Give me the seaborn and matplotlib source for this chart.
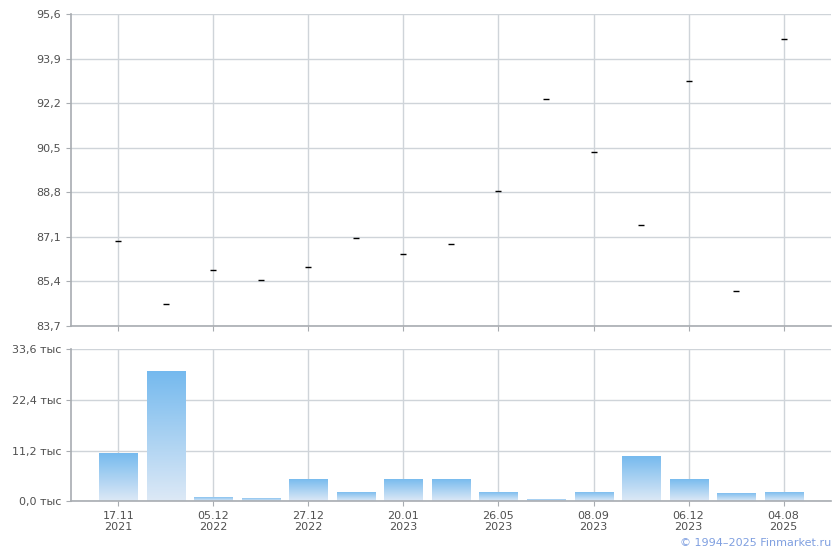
"""
Price and volume chart (Finmarket style)
"""

import numpy as np
import pandas as pd
import matplotlib
matplotlib.use("Agg")
import matplotlib.pyplot as plt
from matplotlib.colors import LinearSegmentedColormap
import seaborn as sns

sns.set_style("white")
plt.rcParams['font.family'] = ['DejaVu Sans']

# Data
dates = ["17.11\n2021", "", "05.12\n2022", "", "27.12\n2022", "", "20.01\n2023", "",
         "26.05\n2023", "", "08.09\n2023", "", "06.12\n2023", "", "04.08\n2025"]
prices = [86.93, 84.53, 85.82, 85.44, 85.94, 87.05, 86.43, 86.82,
          88.84, 92.35, 90.32, 87.54, 93.03, 85.02, 94.63]
volumes = [10.66, 28.75, 0.95, 0.73, 4.92, 2.05, 4.92, 4.92,
           2.05, 0.5, 2.05, 10.0, 4.92, 1.83, 2.05]
price_ticks = [83.7, 85.4, 87.1, 88.8, 90.5, 92.2, 93.9, 95.6]
volume_ticks = [0.0, 11.2, 22.4, 33.6]

df = pd.DataFrame({"idx": np.arange(len(prices)), "price": prices, "volume": volumes})

GRID = "#cfd4d9"
SPINE = "#a8acb1"
TEXT = "#505050"

fig = plt.figure(figsize=(8.4, 5.5), dpi=100)
ax1 = fig.add_axes([0.0845, 0.4073, 0.9048, 0.5673])
ax2 = fig.add_axes([0.0845, 0.0885, 0.9048, 0.2769])

labelled = [i for i, d in enumerate(dates) if d]

for ax in (ax1, ax2):
    ax.set_xlim(-1, len(prices))
    ax.set_xticks(labelled)
    for s in ("top", "right"):
        ax.spines[s].set_visible(False)
    for s in ("left", "bottom"):
        ax.spines[s].set_color(SPINE)
        ax.spines[s].set_linewidth(1.2)
    ax.grid(True, color=GRID, linewidth=1)
    ax.set_axisbelow(True)
    ax.tick_params(axis="both", which="both", length=3.5, color=SPINE, labelcolor=TEXT,
                   labelsize=8, bottom=True, left=True, direction="out")

# Top panel: price marks
sns.scatterplot(data=df, x="idx", y="price", marker="_", s=22, color="black",
                linewidth=1.0, ax=ax1, legend=False)
ax1.set_ylim(price_ticks[0], price_ticks[-1])
ax1.set_yticks(price_ticks)
ax1.set_yticklabels([f"{v:.1f}".replace(".", ",") for v in price_ticks])
ax1.set_xticklabels([])
ax1.set_xlabel("")
ax1.set_ylabel("")

# Bottom panel: volume bars with vertical gradient
sns.barplot(data=df, x="idx", y="volume", native_scale=True, width=0.8,
            color="#74b9ee", ax=ax2)
ax2.set_xlim(-1, len(prices))
ax2.set_ylim(volume_ticks[0], volume_ticks[-1])
ax2.set_yticks(volume_ticks)
ax2.set_yticklabels([f"{v:.1f}".replace(".", ",") + " тыс" for v in volume_ticks])
ax2.set_xticks(labelled)
ax2.set_xticklabels([dates[i] for i in labelled], linespacing=1.1)
ax2.set_xlabel("")
ax2.set_ylabel("")

cmap = LinearSegmentedColormap.from_list("vol", ["#dde9f6", "#74b9ee"])
grad = np.linspace(0, 1, 256).reshape(-1, 1)
for patch in list(ax2.patches):
    x0, y0 = patch.get_x(), patch.get_y()
    w, h = patch.get_width(), patch.get_height()
    if h <= 0:
        continue
    patch.set_facecolor("none")
    patch.set_edgecolor("none")
    im = ax2.imshow(grad, cmap=cmap, aspect="auto", origin="lower",
                    extent=[x0, x0 + w, y0, y0 + h], zorder=2)
    im.set_clip_path(patch)
ax2.set_xlim(-1, len(prices))
ax2.set_ylim(volume_ticks[0], volume_ticks[-1])

fig.text(0.989, 0.003, "© 1994–2025 Finmarket.ru", ha="right", va="bottom",
         color="#7f9fe0", fontsize=8)

plt.savefig("out.png", dpi=100)
plt.close()
